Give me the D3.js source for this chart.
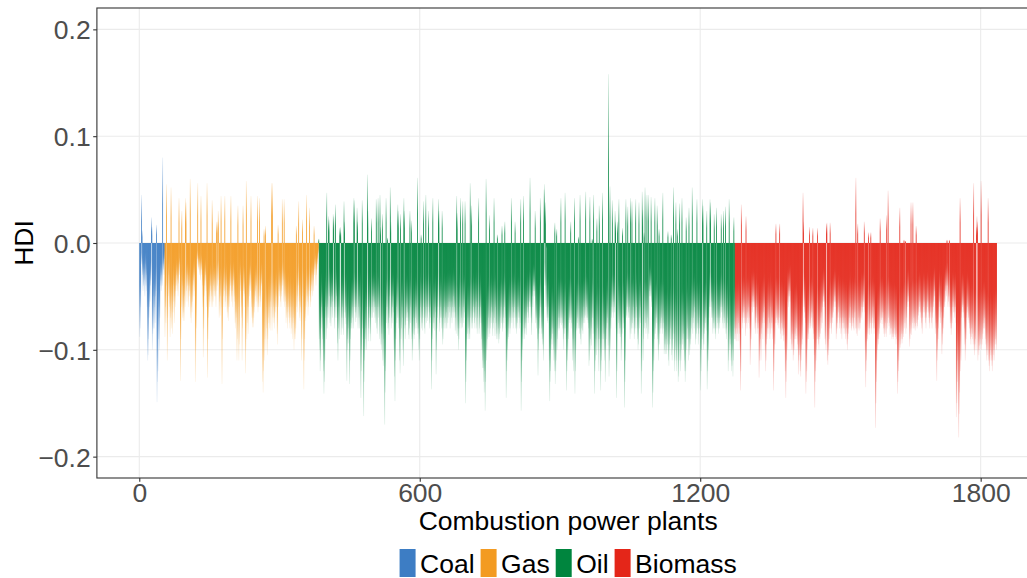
<!DOCTYPE html>
<html>
<head>
<meta charset="utf-8">
<script src="https://cdn.jsdelivr.net/npm/d3@7"></script>
<style>
  body { margin: 0; background: #fff; }
  svg { display: block; }
  text { font-family: "Liberation Sans", Arial, Helvetica, sans-serif; }
</style>
</head>
<body>
<svg id="chart" width="1027" height="578"></svg>
<script>
// Fuel types, in plot order, with their fill colours
const fuels = ["Coal", "Gas", "Oil", "Biomass"];
const fuelColors = ["#3D7DC4", "#F39B22", "#00853E", "#E42619"];

// HDI per plant, stored as thousandths (plants numbered consecutively across fuels)
const coal = [-88,-80,-60,-20,45,12,-30,-45,-40,-25,-35,-50,-20,-40,-30,-45,-60,-110,-105,-90,-70,-60,-55,-40,-35,24,15,-100,-85,-80,-50,-80,-60,-75,-50,-45,17,-149,-130,-120,-90,-60,-100,-70,-40,-35,-45,-30,-40,80,-20,-25,-30,-15];

const gas = [
  -88,-60,-75,55,-40,-110,-70,-50,-30,-20,
  -60,-88,-70,52,-80,-50,-85,-65,-40,-55,
  -75,-50,-60,-45,-40,-30,-45,-35,-50,-38,
  42,-30,-20,-129,-90,-60,30,-40,-70,-73,
  -65,-73,-50,-60,42,38,-45,-55,-40,-30,
  -60,-40,-50,-45,60,-70,-75,-60,-65,-55,
  -40,-35,-50,-30,-45,-130,-100,-80,-20,-15,
  56,-23,-25,-15,-30,-20,-35,44,-25,-30,
  -40,-60,-107,-80,-50,-40,-35,-30,-45,-60,
  56,-126,-90,-70,-50,-60,-55,-40,-45,-60,
  -50,40,-60,-55,-40,-45,-50,-35,
  -50,-60,20,-45,-40,20,30,-35,-70,-55,
  -68,-50,44,-60,-132,-90,-40,-50,-60,-45,
  44,-55,-60,-50,-40,-65,-70,-60,-73,-50,
  -60,-45,-40,44,-55,-50,-45,-60,-40,-35,
  -50,-55,-75,-80,-65,-70,-110,-90,35,-60,
  -110,-95,-40,-30,-45,-60,-70,-110,-80,35,
  -45,-50,-48,-60,-122,-100,58,-90,-75,-60,
  -85,-60,-40,-50,-30,-45,44,-60,-70,-79,
  -75,-79,-70,-65,-60,-50,-45,-55,-40,-60,
  44,-65,-60,-60,42,-50,-60,-55,-40,-38,
  -45,-130,-140,-120,13,-110,-90,16,-100,-80,
  -60,-105,-90,-70,-75,-60,-80,-82,-55,-60,
  56,-82,56,-70,-60,-75,-80,-70,-65,-60,
  -50,-60,-85,-95,17,-60,-45,-50,-40,-55,
  -60,-50,-45,41,-40,-35,-55,41,-60,-50,
  -55,-75,-70,-60,-80,-65,-60,-70,-75,-80,
  -60,-70,-85,-80,-60,-90,-75,-70,-100,-90,-85,
  -90,-80,16,-60,-65,-50,-40,39,-55,-70,
  -73,-60,-65,-110,-90,22,-50,-60,-137,-110,
  -90,-70,-73,-60,45,-50,-55,-68,-60,-45,
  33,-50,-60,-55,-45,-40,-30,-50,-35,-45,
  16,-30,-25,-20,-40,-30,-25,-20,-15,-10
];

const oil = [
  4,-90,-100,-120,-110,-80,-60,-70,-90,-100,
  -120,-141,-130,-110,-60,-70,-90,47,-80,-60,
  -70,25,22,-50,-75,-60,-78,-60,-50,-70,
  -55,27,25,-60,-80,-70,36,-60,-50,-70,
  -94,-110,-80,-60,-90,14,15,10,-86,-70,
  -80,-60,-70,-86,39,20,-65,-70,-76,-60,
  -129,-100,-90,-94,-80,-70,-132,-110,-90,-80,
  -75,-80,-70,-60,-80,42,40,-60,-65,-74,
  -60,-70,33,20,-80,-60,-70,-80,-50,-60,
  -145,-120,-100,40,-80,-90,-162,-130,-110,-100,
  -90,-80,-100,-60,64,30,-92,-80,-70,-60,
  -85,-92,-70,23,-60,-70,-50,-65,-55,-60,-70,
  -75,-60,41,-80,-85,-60,42,-70,-60,-90,
  45,15,-95,-100,-85,27,-110,-115,-90,-80,
  -170,-140,-120,42,-75,-60,5,-80,-75,-86,
  -70,-50,52,20,-80,-70,-75,-60,-50,-65,
  -100,-125,-148,-110,-90,-60,-75,-70,36,30,
  -80,-70,-110,-122,27,-90,-80,-60,-70,-100,
  -115,42,30,-80,-90,-77,-60,-70,-73,-65,
  -70,-86,-90,-80,30,-75,-60,21,-90,-110,
  -100,-85,-70,-90,-86,-80,-70,-60,-75,-80,
  61,-85,-80,-100,-110,-90,-70,-60,8,-80,
  -75,-82,-70,39,-60,-80,-85,-70,45,-75,
  -60,-70,-73,-60,30,-65,-80,-75,-70,-60,
  -137,-110,-90,42,-80,-75,-70,-82,-60,-65,
  -123,-100,-80,-70,-60,41,30,-83,-75,-70,
  -60,-70,-80,30,-95,-90,-70,-80,-60,-75,
  -70,-80,-65,-80,-60,-75,-70,-60,-55,-65,
  -80,-60,-55,-70,-75,-60,-65,-50,-70,-60,-65,
  -82,-70,-85,44,28,-87,-80,-100,-90,-60,
  -80,42,-75,-70,-80,-79,39,-60,-75,-70,
  -65,39,-150,-130,-110,-90,-85,-70,-80,-90,
  -85,-90,56,-70,-80,35,-75,-80,-70,-60,
  -65,-75,-80,-70,-60,-55,-80,-85,-70,-60,
  42,-85,-80,-70,-60,-75,-90,-100,-117,-110,
  -117,-130,-140,-120,-157,-130,60,-110,-100,-90,
  -80,-70,-88,26,-85,-80,-70,-75,-60,-65,
  -87,-80,-75,42,-70,-87,-60,-75,-90,-85,
  8,-90,-80,-94,-90,-85,-70,-80,-60,-75,
  16,-83,-80,-70,-75,-60,20,-70,-80,-145,
  -120,-110,-100,-90,-88,-80,-70,-85,-80,-70,
  42,-75,-60,-70,-80,-65,-70,-60,20,-80,
  -70,-85,-80,-75,-60,-70,-65,-80,-70,-75,
  41,-157,-130,-110,-100,-90,44,-80,-90,-85,
  -80,-75,-86,-70,-60,-65,-75,-70,-60,-55,
  61,-60,-70,-86,-75,-50,-60,-45,-40,-50,-45,
  30,-75,-70,-80,-72,-90,-124,-100,-85,-80,
  -70,42,-60,-80,-85,-90,-95,-100,-110,50,
  55,-40,38,-60,-5,-70,-73,-75,-70,-60,
  -110,-148,-130,-120,-100,-90,-95,-85,-80,-100,
  -110,-120,19,-132,-120,-110,13,-100,-90,-80,
  -70,-82,-80,-70,-75,42,-77,-70,-75,-80,
  -90,-100,-80,-85,47,-80,-90,-138,-120,-110,
  -100,-90,-72,-75,-70,-72,20,-80,-75,-70,
  -110,-90,-120,-100,42,-141,-120,-100,-80,-82,
  -75,-70,-80,6,-80,-85,45,-90,-95,-80,
  -70,-82,-85,-75,-60,-70,-75,-68,48,-70,
  -60,-72,-70,-75,-80,-115,-110,43,-90,-100,
  -96,-80,4,-70,-85,45,-100,-141,-120,-110,
  -90,-105,23,-80,-100,-90,-120,35,-90,-100,
  -138,-120,-110,-90,47,-100,-90,-85,-110,-100,
  -130,-100,-90,-80,-75,-70,-96,158,-125,-110,
  53,-100,-80,-70,-60,40,-65,-55,-70,-60,-65,
  30,20,-80,-145,-120,20,-85,-75,41,-80,
  -85,-88,-80,-110,-100,-85,14,-70,-80,-75,
  -154,-130,-110,41,-70,-68,-60,34,-70,-65,
  -70,-60,-90,42,-85,-80,39,-75,-80,-60,
  -70,-90,-85,-80,41,-70,-60,-80,-90,-100,
  -95,38,-80,-70,-75,-60,-141,-120,48,31,
  -110,-90,10,-80,52,-75,-85,-80,45,-70,
  -90,45,-85,-50,-45,-40,-50,43,-60,-55,
  -154,-140,-120,-110,-90,42,-85,-80,-70,-75,
  35,-90,-100,-110,13,-95,-85,-80,-75,-70,
  -80,-85,47,-80,-75,-104,-100,-95,-104,-90,
  -104,-100,-95,11,-110,-115,-100,-95,-90,-80,
  8,-105,-110,-100,-90,52,-85,-120,-110,-100,
  38,-120,-110,13,-100,-130,-125,-110,37,-95,
  -120,-110,-100,42,-95,-90,-100,-85,-110,-120,
  -130,-120,24,-100,-90,-80,-90,-110,33,-105,
  -100,-95,-90,-80,-70,52,-85,-75,-70,-80,-60,-65,
  -95,-90,-85,41,-80,-75,-95,-85,-80,-70,
  -80,-138,-120,-100,-90,41,35,-100,-95,-85,
  -80,-75,-70,-82,30,-137,-120,-110,-100,-70,
  -60,41,38,-60,-70,-55,-70,-85,-80,-75,
  27,-80,-85,-90,-80,33,-70,-75,-80,-85,
  -70,-80,-75,-70,-60,27,-65,-60,-75,-80,
  30,-70,-75,-80,34,-85,-90,-80,-75,-70,
  -120,-110,41,-100,-90,-95,-110,-120,-115,-100,
  -125,-110,24,-90,-80
];

const biomass = [
  -90,-85,-92,-80,-70,-85,-92,-75,-80,-85,
  -100,-138,-120,36,-70,-80,-75,-65,-70,-60,
  -75,-70,-87,25,-75,-80,-70,-65,-75,-60,
  -70,-80,-114,-100,-90,-60,-55,-65,-50,-60,
  -55,-60,-80,-85,-75,-70,-60,-85,-80,-75,
  -80,-126,-110,-100,-90,-110,-85,-80,-75,-90,
  -70,-65,-75,-60,-100,-120,-110,-95,-90,-80,
  -85,-70,-80,-75,-90,-60,-85,-80,-75,-70,
  -90,-80,-138,-120,-100,-95,
  -75,18,-70,-75,-72,-77,-80,-75,-70,18,
  -80,-85,-90,-75,-82,-80,-87,-92,-86,-80,
  -100,-120,-145,-130,-110,-100,-55,-50,-60,-45,
  -50,-55,-45,-90,-100,-95,-85,-100,-110,-105,
  -100,-90,-85,-90,-87,-80,-90,-95,-100,-123,
  -110,-105,-100,-120,-125,-110,-100,-95,-90,47,
  20,-60,-65,-70,-75,-141,-130,-120,-100,-90,
  -85,-90,-80,15,-75,-80,-78,-70,-65,-80,
  14,-90,-85,-105,-154,-130,-120,-110,-100,-90,
  14,-90,-95,-100,-88,-90,-85,-70,-65,-80,
  -75,-60,-55,-50,-55,-60,-90,-95,-100,18,
  19,-110,-114,-105,-100,-90,-80,19,-75,-80,
  -85,-70,-75,-70,-65,-60,-55,-50,-60,-55,
  -90,-85,-80,-75,-70,-65,-60,-80,-75,-70,
  -85,-80,-90,-75,-70,-80,-75,-85,-80,-70,
  -90,-85,-80,-95,-100,-90,-85,-80,-70,-75,
  -60,-75,-80,-82,-78,-70,-75,-80,-82,-70,-65,
  -80,61,-85,-80,-87,18,-70,-80,-82,-75,
  -80,-75,-70,-60,-72,-65,-60,-55,-60,20,
  -65,-100,-135,-120,-110,-92,-90,-85,10,-80,
  -86,-80,-75,10,-85,-80,-75,-70,-60,-80,
  -85,-80,-75,-173,-150,-130,-110,-100,-90,-95,
  -90,-85,-80,23,-75,-70,-72,-76,-70,-65,
  -80,-85,-88,-80,-75,-85,-88,26,-80,-75,
  49,-70,-78,-75,-86,-80,-85,-80,-90,-88,
  -85,-90,-88,-85,-80,-86,-88,-95,-90,-85,
  -141,-130,-120,-110,-100,33,-98,-95,-90,-85,
  -94,-90,-85,-88,3,-80,-75,2,-85,-80,
  -70,-60,-55,-50,-55,-60,-97,-90,-85,38,
  -86,-80,-75,38,-80,-70,-75,-80,-82,-78,
  16,-75,-80,-78,-72,-68,-65,-60,-55,-65,
  -70,-75,-80,-85,-70,-65,-60,-55,-65,-70,
  -75,-80,-70,-65,-60,-55,-65,-70,-75,-80,
  -70,-65,-60,-75,-80,-70,-65,-60,-55,-50,-45,
  -85,-80,-75,-129,-110,-100,-90,-80,-60,-55,
  -70,-75,-60,-65,-104,-95,-85,-80,-70,-60,
  -60,-55,-45,-40,-50,3,-40,-60,-55,-50,
  3,-60,-75,-80,-86,-80,-75,-60,-55,-65,
  -60,-70,-65,-60,-75,-163,-150,-130,-110,-100,
  -182,-160,-140,42,-120,-110,-70,-65,-60,-58,
  -65,-70,-80,-95,-110,-100,-90,-70,-65,-60,
  -72,-70,-75,-80,-85,-90,-95,-88,-80,-85,
  -90,-95,56,-100,-105,-95,-90,-100,15,25,
  20,-110,-100,-105,-96,-100,-90,-95,58,-100,
  -95,-90,-85,-80,-75,-80,-70,-90,-95,-100,
  -110,-105,-100,42,-110,-115,-120,-110,-100,-105,
  -110,-115,-120,-110,-100,-105,-110,-100,-95,-90,-95,-100
];

// Axis tick values
const xTicks = [0, 600, 1200, 1800];
const yTicks = [-0.2, -0.1, 0, 0.1, 0.2];

const series = [coal, gas, oil, biomass];
const rows = [];
let plant = 1;
series.forEach((vals, k) => {
  vals.forEach(v => rows.push({ plant: plant++, fuel: fuels[k], hdi: v / 1000 }));
});
const nPlants = plant - 1;

const svg = d3.select("#chart");
const W = 1027, H = 578;

// Panel extends past the right edge of the canvas; x range carries the usual 5% padding
const panel = { left: 96.9, right: 1039.4, top: 8, bottom: 478 };
const pad = (nPlants - 1) * 0.05;
const x = d3.scaleLinear().domain([1 - pad, nPlants + pad]).range([panel.left, panel.right]);
const y = d3.scaleLinear().domain([-0.22, 0.22]).range([panel.bottom, panel.top]);
const color = d3.scaleOrdinal().domain(fuels).range(fuelColors);

// Fading fills: solid at the zero line, thinning toward the bar tip
const defs = svg.append("defs");
fuels.forEach(f => {
  [["neg", 0, 1], ["pos", 1, 0]].forEach(([dir, y1, y2]) => {
    const g = defs.append("linearGradient")
      .attr("id", `fill-${f}-${dir}`)
      .attr("x1", 0).attr("x2", 0).attr("y1", y1).attr("y2", y2);
    [[0, 1], [0.45, 0.95], [1, 0.1]].forEach(([o, a]) =>
      g.append("stop").attr("offset", o).attr("stop-color", color(f)).attr("stop-opacity", a));
  });
});

const clip = defs.append("clipPath").attr("id", "panel-clip");
clip.append("rect").attr("x", panel.left).attr("y", panel.top)
  .attr("width", W - panel.left).attr("height", panel.bottom - panel.top);

// Grid
const grid = svg.append("g").attr("clip-path", "url(#panel-clip)");
grid.selectAll("line.gy").data(yTicks).join("line")
  .attr("x1", panel.left).attr("x2", W)
  .attr("y1", d => y(d)).attr("y2", d => y(d))
  .attr("stroke", "#EBEBEB").attr("stroke-width", 1.1);
grid.selectAll("line.gx").data(xTicks).join("line")
  .attr("x1", d => x(d)).attr("x2", d => x(d))
  .attr("y1", panel.top).attr("y2", panel.bottom)
  .attr("stroke", "#EBEBEB").attr("stroke-width", 1.1);

// Bars
const barW = 0.8;
svg.append("g").attr("clip-path", "url(#panel-clip)")
  .selectAll("rect").data(rows.filter(d => d.hdi !== 0)).join("rect")
  .attr("x", d => x(d.plant) - barW / 2)
  .attr("width", barW)
  .attr("y", d => d.hdi > 0 ? y(d.hdi) : y(0))
  .attr("height", d => Math.abs(y(d.hdi) - y(0)))
  .attr("fill", d => `url(#fill-${d.fuel}-${d.hdi > 0 ? "pos" : "neg"})`);

// Panel border
svg.append("rect")
  .attr("x", panel.left).attr("y", panel.top)
  .attr("width", panel.right - panel.left).attr("height", panel.bottom - panel.top)
  .attr("fill", "none").attr("stroke", "#333").attr("stroke-width", 1.1);

// Axes
const fmtY = d => (d < 0 ? "\u2212" : "") + Math.abs(d).toFixed(1);
const yAxis = svg.append("g").attr("transform", `translate(${panel.left},0)`)
  .call(d3.axisLeft(y).tickValues(yTicks).tickFormat(fmtY).tickSize(3.7).tickPadding(2.5));
const xAxis = svg.append("g").attr("transform", `translate(0,${panel.bottom})`)
  .call(d3.axisBottom(x).tickValues(xTicks).tickFormat(d3.format("d")).tickSize(3.7).tickPadding(1.5));
[yAxis, xAxis].forEach(a => {
  a.select(".domain").remove();
  a.selectAll(".tick line").attr("stroke", "#333").attr("stroke-width", 1.1);
  a.selectAll(".tick text").attr("fill", "#4D4D4D").style("font-size", "26.5px")
    .style("font-family", '"Liberation Sans", Arial, sans-serif');
});
yAxis.selectAll(".tick text").attr("dy", "0.36em");
xAxis.selectAll(".tick text").attr("dy", "0.71em");

const midX = (panel.left + panel.right) / 2;
svg.append("text").attr("x", midX).attr("y", 529.5)
  .attr("text-anchor", "middle").style("font-size", "26.5px").attr("fill", "#000")
  .text("Combustion power plants");
svg.append("text")
  .attr("transform", `translate(32.5,${y(0)}) rotate(-90)`)
  .attr("text-anchor", "middle").style("font-size", "26.5px").attr("fill", "#000")
  .text("HDI");

// Legend
const legend = svg.append("g");
const keyW = 16, keyH = 28, keyGap = 4.5, itemGap = 6;
const items = fuels.map(f => {
  const g = legend.append("g");
  g.append("rect").attr("width", keyW).attr("height", keyH).attr("fill", color(f));
  const t = g.append("text").attr("x", keyW + keyGap).attr("y", keyH / 2 + 9.5)
    .style("font-size", "26.5px").attr("fill", "#000").text(f);
  return { g, w: keyW + keyGap + t.node().getComputedTextLength() };
});
const total = d3.sum(items, d => d.w) + itemGap * (items.length - 1);
let lx = midX - total / 2;
items.forEach(it => {
  it.g.attr("transform", `translate(${lx},549)`);
  lx += it.w + itemGap;
});
</script>
</body>
</html>
